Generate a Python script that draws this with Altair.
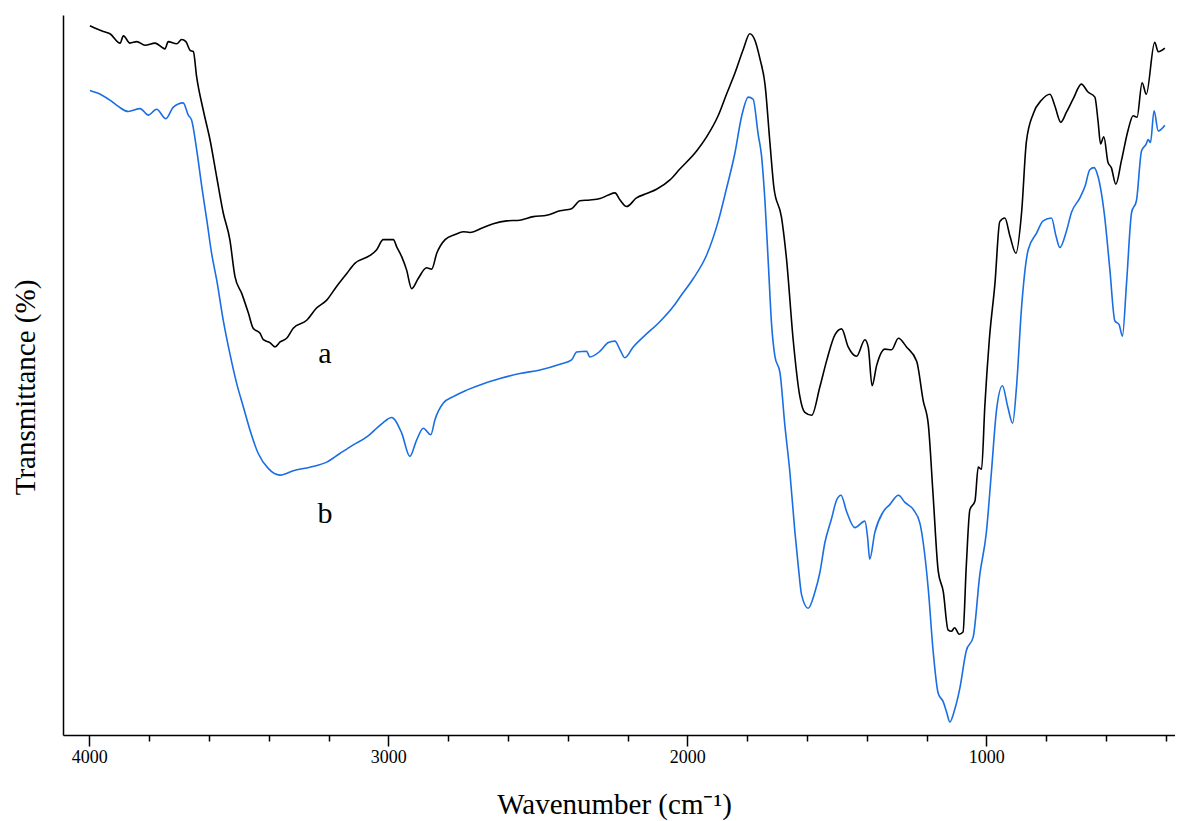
import altair as alt
import pandas as pd

# Curve a (black)
wn_a = [3998,3953,3931,3897,3886,3864,3841,3814,3780,3747,3736,3708,3691,3677,3663,3652,3641,3619,3596,3574,3552,3530,3513,3490,3468,3452,3429,3418,3396,3379,3362,3340,3318,3273,3240,3206,3173,3139,3112,3061,3039,3017,2983,2972,2955,2939,2922,2900,2872,2855,2838,2810,2777,2749,2727,2682,2649,2604,2560,2515,2470,2426,2387,2359,2326,2292,2264,2242,2225,2203,2170,2136,2103,2058,2025,1969,1935,1897,1869,1841,1813,1791,1774,1757,1740,1724,1710,1685,1668,1646,1624,1607,1584,1557,1534,1506,1484,1462,1434,1406,1395,1382,1367,1339,1317,1294,1267,1233,1211,1194,1178,1161,1144,1128,1117,1106,1091,1078,1067,1055,1038,1027,1016,1005,990,971,955,938,921,901,882,866,843,815,787,771,751,732,710,682,660,637,626,618,607,593,582,567,548,526,509,496,479,465,437,425,403]
t_a = [98.5,97.7,97.4,96.1,97.1,96.1,96.3,95.8,96.1,95.3,96.3,96.0,96.6,96.3,95.1,94.9,91.4,86.8,82.6,77.5,72.5,68.8,63.7,61.3,58.6,56.5,55.8,54.9,54.5,53.9,54.6,55.1,56.5,57.6,59.3,60.4,62.3,64.1,65.5,66.6,67.4,68.8,68.8,67.8,66.4,64.6,62.0,63.4,64.9,64.7,66.9,68.8,69.5,69.9,69.8,70.5,71.0,71.4,71.5,72.0,72.2,72.8,73.1,74.2,74.3,74.5,75.0,75.3,74.3,73.4,74.6,75.2,75.8,77.1,78.6,81.1,83.1,86.0,89.0,91.9,95.2,97.4,96.5,93.9,90.3,82.4,75.9,71.9,66.0,54.9,47.1,44.8,44.4,48.3,52.0,55.6,56.4,53.9,52.6,54.9,53.9,48.5,51.3,53.6,53.5,55.1,53.9,51.9,46.4,43.1,33.3,22.8,19.9,14.6,14.4,14.9,14.0,14.3,23.5,31.3,32.5,37.2,36.9,45.7,54.9,62.8,71.3,71.8,69.3,66.9,72.6,82.4,86.3,88.2,89.0,87.4,85.1,86.5,88.3,90.4,89.3,88.6,85.1,82.1,83.1,79.5,78.8,76.5,79.8,84.0,86.0,85.8,90.6,89.0,96.2,94.9,95.4]

# Curve b (blue)
wn_b = [3998,3959,3925,3903,3870,3830,3803,3775,3744,3719,3686,3669,3658,3641,3624,3607,3591,3574,3552,3530,3507,3485,3463,3435,3401,3362,3318,3262,3206,3162,3117,3072,3034,3017,2989,2955,2928,2905,2883,2858,2844,2816,2783,2738,2682,2627,2560,2493,2426,2387,2370,2337,2326,2292,2264,2242,2225,2209,2181,2147,2092,2047,2025,1980,1935,1897,1869,1841,1818,1796,1780,1763,1752,1740,1729,1718,1707,1690,1674,1657,1640,1629,1618,1596,1573,1557,1540,1518,1501,1486,1467,1440,1406,1397,1390,1373,1345,1323,1294,1272,1244,1222,1211,1194,1178,1161,1144,1133,1122,1106,1089,1067,1044,1022,1000,983,966,946,929,912,899,882,860,832,810,782,767,754,732,715,687,670,654,640,626,604,587,570,556,545,531,514,498,481,465,459,451,439,425,403]
t_b = [89.5,88.9,88.0,87.3,86.6,87.0,86.1,86.9,85.6,87.2,87.8,86.1,85.4,81.3,76.2,71.5,66.9,63.2,57.6,53.0,48.8,45.6,42.4,39.1,37.0,36.1,36.7,37.2,37.9,39.1,40.3,41.4,42.8,43.4,44.1,41.9,38.7,41.0,42.6,41.7,43.8,46.1,47.0,47.9,48.8,49.5,50.2,50.7,51.5,52.1,53.2,53.3,52.5,53.3,54.5,54.7,53.5,52.4,53.9,55.3,57.4,59.5,60.8,63.4,66.7,71.3,75.9,80.8,86.0,88.6,88.3,83.4,80.5,73.9,65.4,56.9,52.6,50.3,43.1,36.5,28.1,23.5,19.5,17.6,19.9,22.5,26.7,30.0,32.6,33.3,31.0,28.8,29.7,27.4,24.4,28.1,31.0,32.0,33.3,32.3,31.3,29.4,26.7,20.2,11.7,5.8,4.6,3.2,1.8,3.5,6.4,11.7,13.6,22.2,28.1,36.5,45.1,48.5,45.7,43.3,48.4,59.5,67.4,69.7,71.4,71.8,69.3,67.7,70.0,72.6,74.6,76.2,78.5,78.8,77.5,71.9,64.7,57.5,57.0,55.4,62.8,72.6,74.2,81.1,82.1,82.7,82.3,86.7,83.9,84.7]

# Curve labels
label_text = ["a", "b"]
label_wn = [3212, 3212]
label_t = [51.7, 29.4]

tick_values = list(range(4000, 399, -100))

df = pd.concat([
    pd.DataFrame({"wn": wn_a, "t": t_a, "s": "a"}),
    pd.DataFrame({"wn": wn_b, "t": t_b, "s": "b"}),
], ignore_index=True)
df_lab = pd.DataFrame({"wn": label_wn, "t": label_t, "text": label_text})

FONT = "Liberation Serif"

xscale = alt.Scale(domain=[369, 4088], reverse=True, nice=False, zero=False)
yscale = alt.Scale(domain=[0, 100], nice=False, zero=False)

xaxis = alt.Axis(
    values=tick_values,
    format="d",
    labelExpr="datum.value % 1000 === 0 ? datum.label : ''",
    tickSize={"condition": [{"test": "datum.value % 1000 === 0", "value": 11},
                            {"test": "datum.value % 500 === 0", "value": 8}],
              "value": 6},
    tickWidth=1.5,
    labelFontSize=18,
    labelPadding=2,
    labelOverlap=False,
    labelFlush=False,
    grid=False,
    title="Wavenumber (cm⁻¹)",
    titleFontSize=29,
    titleFontWeight="normal",
    titleBaseline="alphabetic",
    titleY=78,
    titleX=551,
)
yaxis = alt.Axis(
    ticks=False,
    labels=False,
    grid=False,
    title="Transmittance (%)",
    titleFontSize=29,
    titleFontWeight="normal",
    titleBaseline="alphabetic",
    titleX=-29,
    titleY=372,
)

lines = alt.Chart(df).mark_line(strokeWidth=1.6, interpolate="monotone").encode(
    x=alt.X("wn:Q", scale=xscale, axis=xaxis),
    y=alt.Y("t:Q", scale=yscale, axis=yaxis),
    color=alt.Color("s:N", scale=alt.Scale(domain=["a", "b"], range=["#000000", "#1a6ee3"]), legend=None),
    detail="s:N",
)

labels = alt.Chart(df_lab).mark_text(font=FONT, fontSize=30, baseline="alphabetic", align="center", color="black").encode(
    x=alt.X("wn:Q", scale=xscale),
    y=alt.Y("t:Q", scale=yscale),
    text="text:N",
)

chart = alt.layer(lines, labels).properties(
    width=1112,
    height=720,
    autosize=alt.AutoSizeParams(type="none"),
    padding={"left": 55, "top": 7, "right": 0, "bottom": 86},
).configure_view(stroke=None).configure_axis(
    labelFont=FONT,
    titleFont=FONT,
    domainColor="black",
    domainWidth=1.5,
    tickColor="black",
    labelColor="black",
    titleColor="black",
)

chart.save("out.html", embed_options={"renderer": "svg", "actions": False})
